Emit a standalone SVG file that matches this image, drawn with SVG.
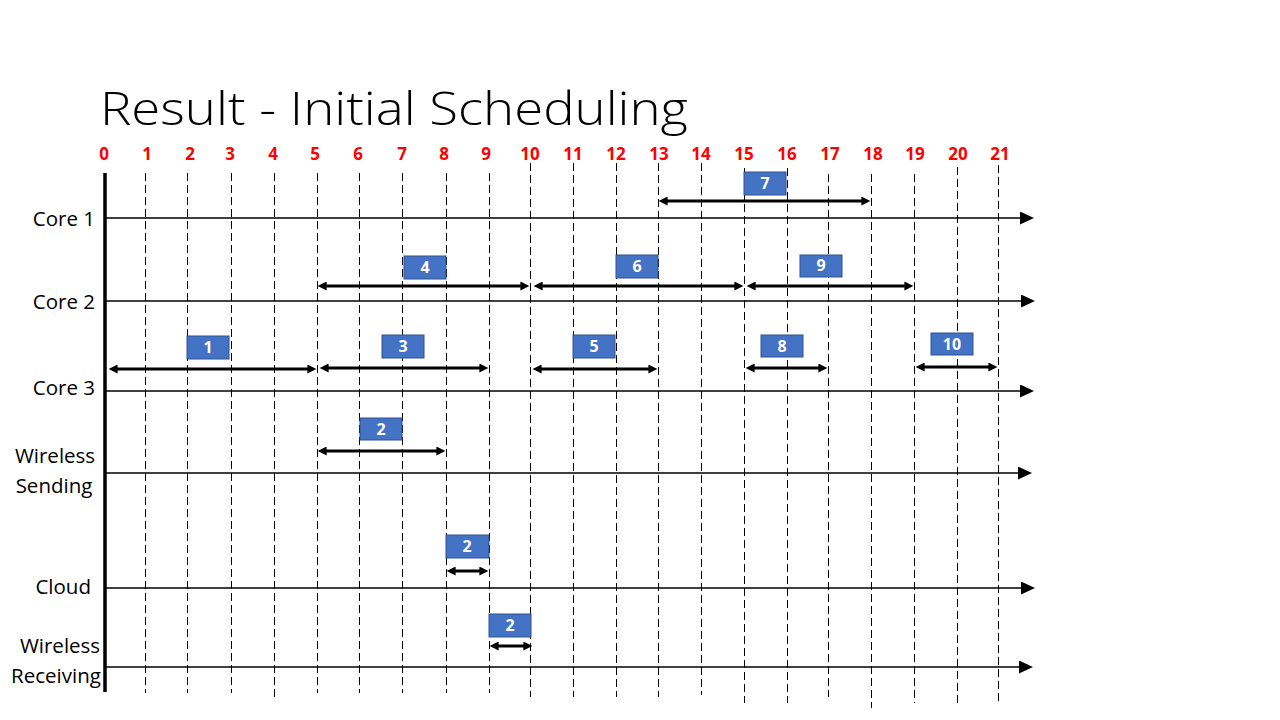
<svg xmlns="http://www.w3.org/2000/svg" width="1280" height="720" viewBox="0 0 1280 720">
<style>
.title{font-family:"Open Sans","Liberation Sans",sans-serif;font-weight:300;font-size:46px;fill:#000}
.tick{font-family:"Open Sans","Liberation Sans",sans-serif;font-weight:700;font-size:17px;fill:#FF0000;text-anchor:middle}
.lbl{font-family:"Open Sans","Liberation Sans",sans-serif;font-size:20.5px;fill:#000}
.grid{stroke:#000;stroke-width:1;stroke-dasharray:8 4;fill:none;shape-rendering:crispEdges}
.lane{stroke:#000;stroke-width:1.3;fill:none}
.axis{stroke:#000;stroke-width:3.5;fill:none}
.box{fill:#4472C4;stroke:#2F528F;stroke-width:1}
.boxt{font-family:"Open Sans","Liberation Sans",sans-serif;font-weight:700;font-size:16px;fill:#fff;text-anchor:middle}
.span{stroke:#000;stroke-width:3;fill:none;marker-start:url(#ah);marker-end:url(#ah)}
</style>
<defs>
<marker id="ah" viewBox="0 0 10 10" refX="4" refY="5" markerWidth="10" markerHeight="9" markerUnits="userSpaceOnUse" orient="auto-start-reverse"><path d="M0,0 L10,5 L0,10 z" fill="#000"/></marker>
<marker id="lh" viewBox="0 0 14 13" refX="1" refY="6.5" markerWidth="14" markerHeight="13" markerUnits="userSpaceOnUse" orient="auto"><path d="M0,0 L14,6.5 L0,13 z" fill="#000"/></marker>
</defs>
<rect width="1280" height="720" fill="#fff"/>
<text class="title" x="100" y="125" textLength="588" lengthAdjust="spacingAndGlyphs">Result - Initial Scheduling</text>
<g id="ticks">
<text class="tick" x="104" y="160">0</text>
<text class="tick" x="147" y="160">1</text>
<text class="tick" x="190" y="160">2</text>
<text class="tick" x="230" y="160">3</text>
<text class="tick" x="273" y="160">4</text>
<text class="tick" x="315" y="160">5</text>
<text class="tick" x="358" y="160">6</text>
<text class="tick" x="402" y="160">7</text>
<text class="tick" x="444" y="160">8</text>
<text class="tick" x="486" y="160">9</text>
<text class="tick" x="530" y="160">10</text>
<text class="tick" x="573" y="160">11</text>
<text class="tick" x="616" y="160">12</text>
<text class="tick" x="659" y="160">13</text>
<text class="tick" x="701" y="160">14</text>
<text class="tick" x="744" y="160">15</text>
<text class="tick" x="787" y="160">16</text>
<text class="tick" x="830" y="160">17</text>
<text class="tick" x="873" y="160">18</text>
<text class="tick" x="915" y="160">19</text>
<text class="tick" x="958" y="160">20</text>
<text class="tick" x="1000" y="160">21</text>
</g>
<g id="grid">
<line class="grid" x1="145.5" y1="173" x2="145.5" y2="693"/>
<line class="grid" x1="187.5" y1="173" x2="187.5" y2="693"/>
<line class="grid" x1="231.5" y1="173" x2="231.5" y2="693"/>
<line class="grid" x1="274.5" y1="173" x2="274.5" y2="697"/>
<line class="grid" x1="317.5" y1="173" x2="317.5" y2="693"/>
<line class="grid" x1="359.5" y1="173" x2="359.5" y2="693"/>
<line class="grid" x1="402.5" y1="173" x2="402.5" y2="693"/>
<line class="grid" x1="446.5" y1="173" x2="446.5" y2="693"/>
<line class="grid" x1="489.5" y1="173" x2="489.5" y2="693"/>
<line class="grid" x1="530.5" y1="163" x2="530.5" y2="697"/>
<line class="grid" x1="573.5" y1="163" x2="573.5" y2="697"/>
<line class="grid" x1="616.5" y1="163" x2="616.5" y2="697"/>
<line class="grid" x1="658.5" y1="163" x2="658.5" y2="697"/>
<line class="grid" x1="701.5" y1="163" x2="701.5" y2="695"/>
<line class="grid" x1="744.5" y1="168" x2="744.5" y2="703"/>
<line class="grid" x1="787.5" y1="168" x2="787.5" y2="703"/>
<line class="grid" x1="828.5" y1="174" x2="828.5" y2="697"/>
<line class="grid" x1="871.5" y1="174" x2="871.5" y2="708"/>
<line class="grid" x1="914.5" y1="174" x2="914.5" y2="703"/>
<line class="grid" x1="957.5" y1="167" x2="957.5" y2="703"/>
<line class="grid" x1="998.5" y1="165" x2="998.5" y2="702"/>
</g>
<g id="lanes">
<g id="lane-core1">
<line class="lane" x1="105" y1="218" x2="1021" y2="218" marker-end="url(#lh)"/>
<text class="lbl" x="95" y="226" text-anchor="end">Core 1</text>
</g>
<g id="lane-core2">
<line class="lane" x1="105" y1="301" x2="1022" y2="301" marker-end="url(#lh)"/>
<text class="lbl" x="95" y="309" text-anchor="end">Core 2</text>
</g>
<g id="lane-core3">
<line class="lane" x1="105" y1="391" x2="1021" y2="391" marker-end="url(#lh)"/>
<text class="lbl" x="95" y="395" text-anchor="end">Core 3</text>
</g>
<g id="lane-wsend">
<line class="lane" x1="105" y1="473" x2="1019" y2="473" marker-end="url(#lh)"/>
<text class="lbl" x="55" y="463" text-anchor="middle">Wireless</text>
<text class="lbl" x="54" y="493" text-anchor="middle">Sending</text>
</g>
<g id="lane-cloud">
<line class="lane" x1="105" y1="588" x2="1022" y2="588" marker-end="url(#lh)"/>
<text class="lbl" x="91" y="594" text-anchor="end">Cloud</text>
</g>
<g id="lane-wrecv">
<line class="lane" x1="105" y1="667" x2="1020" y2="667" marker-end="url(#lh)"/>
<text class="lbl" x="60" y="653" text-anchor="middle">Wireless</text>
<text class="lbl" x="56" y="683" text-anchor="middle">Receiving</text>
</g>
</g>
<line id="time-axis" class="axis" x1="105" y1="173" x2="105" y2="692"/>
<g id="tasks">
<g id="task-7"><rect class="box" x="744" y="172" width="42" height="23"/><text class="boxt" x="765" y="189">7</text></g>
<g id="task-4"><rect class="box" x="404" y="256" width="42" height="23"/><text class="boxt" x="425" y="273">4</text></g>
<g id="task-6"><rect class="box" x="616" y="255" width="42" height="23"/><text class="boxt" x="637" y="272">6</text></g>
<g id="task-9"><rect class="box" x="800" y="255" width="42" height="22"/><text class="boxt" x="821" y="271">9</text></g>
<g id="task-1"><rect class="box" x="187" y="336" width="42" height="23"/><text class="boxt" x="208" y="353">1</text></g>
<g id="task-3"><rect class="box" x="382" y="335" width="42" height="23"/><text class="boxt" x="403" y="352">3</text></g>
<g id="task-5"><rect class="box" x="573" y="335" width="42" height="23"/><text class="boxt" x="594" y="352">5</text></g>
<g id="task-8"><rect class="box" x="761" y="335" width="42" height="22"/><text class="boxt" x="782" y="352">8</text></g>
<g id="task-10"><rect class="box" x="931" y="333" width="42" height="22"/><text class="boxt" x="952" y="350">10</text></g>
<g id="task-2-send"><rect class="box" x="360" y="418" width="42" height="22"/><text class="boxt" x="381" y="435">2</text></g>
<g id="task-2-cloud"><rect class="box" x="446" y="535" width="43" height="23"/><text class="boxt" x="467" y="552">2</text></g>
<g id="task-2-recv"><rect class="box" x="489" y="614" width="42" height="23"/><text class="boxt" x="510" y="631">2</text></g>
</g>
<g id="connectors">
<line class="span" x1="664" y1="201" x2="865" y2="201"/>
<line class="span" x1="323" y1="286" x2="524" y2="286"/>
<line class="span" x1="539" y1="286" x2="738" y2="286"/>
<line class="span" x1="752" y1="286" x2="908" y2="286"/>
<line class="span" x1="114" y1="369" x2="311" y2="369"/>
<line class="span" x1="325" y1="368" x2="483" y2="368"/>
<line class="span" x1="538" y1="369" x2="652" y2="369"/>
<line class="span" x1="751" y1="368" x2="822" y2="368"/>
<line class="span" x1="921" y1="367" x2="992" y2="367"/>
<line class="span" x1="323" y1="451" x2="440" y2="451"/>
<line class="span" x1="452" y1="571" x2="483" y2="571"/>
<line class="span" x1="495" y1="646" x2="527" y2="646"/>
</g>
</svg>
